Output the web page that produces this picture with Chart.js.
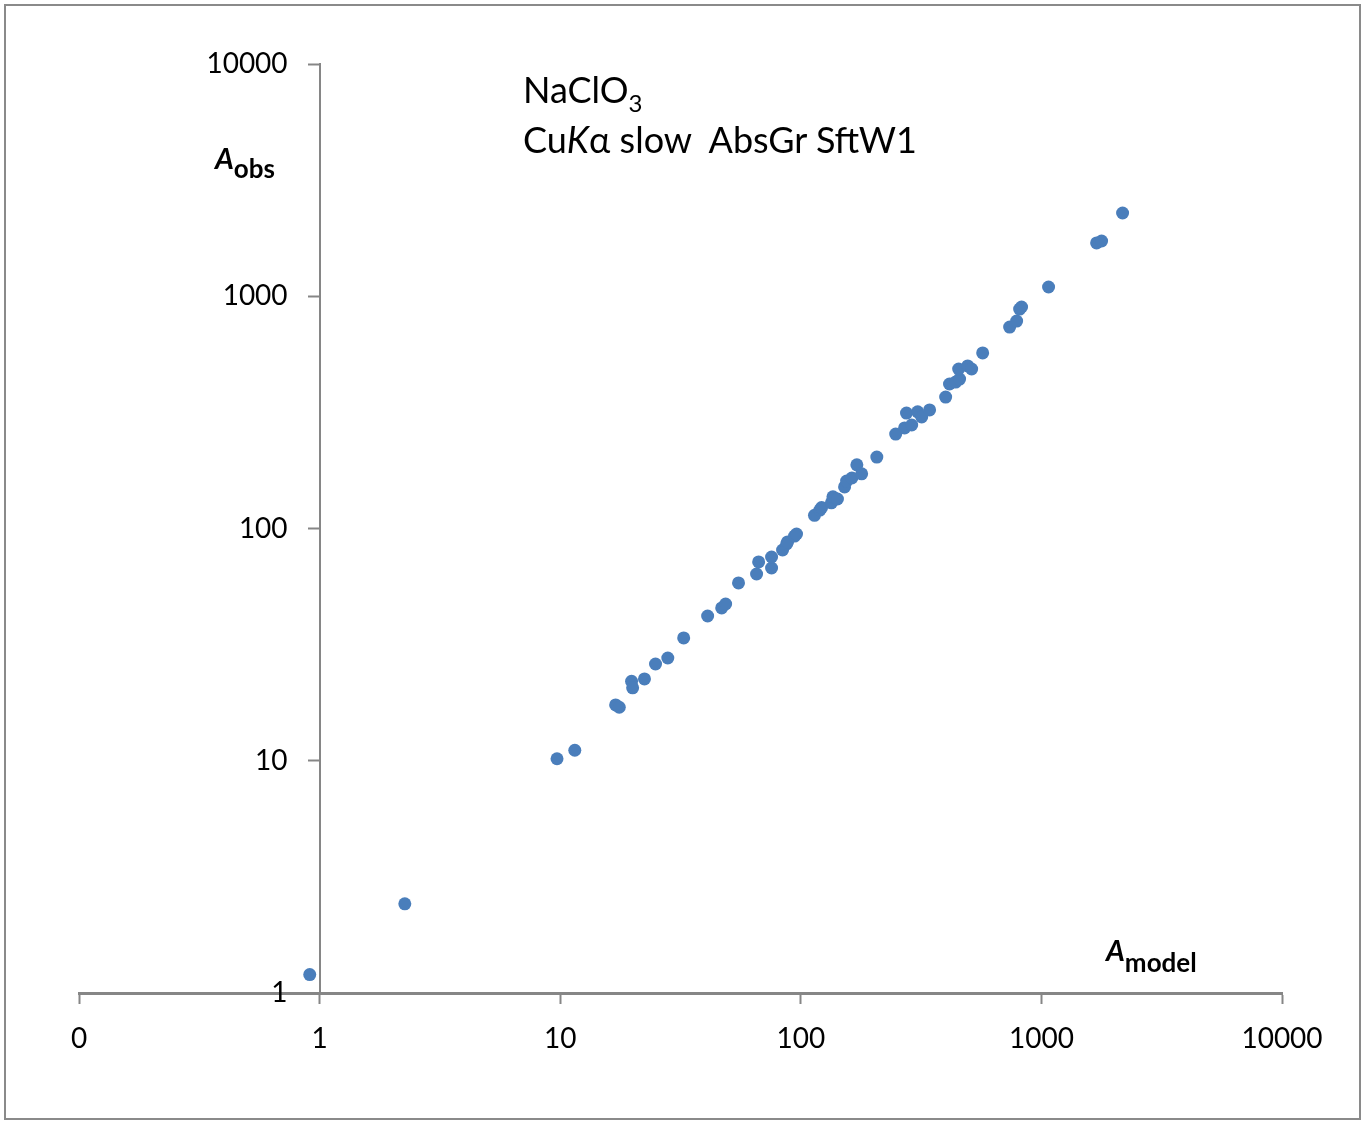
<!DOCTYPE html>
<html>
<head>
<meta charset="utf-8">
<script src="https://cdn.jsdelivr.net/npm/chart.js@4.4.1/dist/chart.umd.min.js"></script>
<style>
  body { margin: 0; background: #fff; }
  #wrap { position: relative; width: 1366px; height: 1121px; }
  #frame { position: absolute; left: 4px; top: 4px; width: 1357px; height: 1116px; border: 2px solid #8a8a8a; box-sizing: border-box; pointer-events: none; }
  .lbl { position: absolute; font-family: Lato, sans-serif; color: #000; white-space: pre; }
  .sub { position: relative; line-height: 0; }
</style>
</head>
<body>
<div id="wrap">
  <canvas id="chart"></canvas>
  <div id="frame"></div>
  <div class="lbl" style="left:523px; top:64px; font-size:36px; line-height:50px;">NaClO<span class="sub" style="font-size:24px; top:9px;">3</span><br>Cu<i>K</i>α slow  AbsGr SftW1</div>
  <div class="lbl" style="left:215px; top:141px; font-size:29px; line-height:34px; font-weight:bold;"><i>A</i><span class="sub" style="font-size:26px; top:9px;">obs</span></div>
  <div class="lbl" style="left:1106px; top:933px; font-size:29px; line-height:34px; font-weight:bold;"><i>A</i><span class="sub" style="font-size:26px; top:11px;">model</span></div>
</div>
<script>
// tick positions and labels (Excel shows 0.1 as "0")
const xTicks = [0.1, 1, 10, 100, 1000, 10000];
const xTickLabels = ['0', '1', '10', '100', '1000', '10000'];
const yTicks = [1, 10, 100, 1000, 10000];
const yTickLabels = ['1', '10', '100', '1000', '10000'];

// A_model vs A_obs
const aModel = [0.91, 2.26, 9.7, 11.5, 17.0, 17.6, 19.8, 20.0, 22.4, 24.9,
    28.0, 32.6, 41.0, 46.9, 48.7, 55.1, 65.5, 66.8, 75.6, 75.6,
    84.0, 87.3, 88.1, 94.2, 96.0, 114, 120, 122, 134, 136,
    142, 152, 155, 163, 171, 179, 207, 248, 270, 289,
    275, 306, 318, 343, 400, 415, 440, 457, 453, 494,
    513, 570, 738, 789, 812, 827, 1071, 1696, 1779, 2175];
const aObs = [1.20, 2.42, 10.2, 11.1, 17.4, 17.0, 22.0, 20.6, 22.5, 26.1,
    27.7, 33.8, 42.0, 45.5, 47.3, 58.3, 63.7, 71.8, 67.6, 75.4,
    80.8, 85.8, 87.5, 92.8, 94.7, 114, 120, 123, 129, 137,
    134, 151, 160, 165, 188, 172, 203, 255, 271, 279,
    314, 318, 302, 324, 368, 419, 427, 440, 486, 501,
    486, 570, 737, 782, 881, 899, 1096, 1696, 1729, 2283];

const axisColor = '#868686';
const tickFont = { family: 'Lato', size: 28 };

// the y axis sits at x = 1, where Chart.js puts its labels right on the line;
// move them left so they clear the tick marks
const yLabelGap = 32;
const yLabelShift = {
    id: 'yLabelShift',
    beforeDraw(chart) {
        chart.scales.y.getLabelItems().forEach(item => {
            if (!item.shifted) {
                item.options.translation[0] -= yLabelGap;
                item.shifted = true;
            }
        });
    }
};

const canvas = document.getElementById('chart');
canvas.width = 1366;
canvas.height = 1121;

new Chart(canvas, {
    type: 'scatter',
    data: {
        datasets: [{
            data: aModel.map((x, i) => ({ x: x, y: aObs[i] })),
            backgroundColor: '#4a7ebb',
            borderWidth: 0,
            pointRadius: 6.5,
            pointHoverRadius: 6.5
        }]
    },
    options: {
        responsive: false,
        animation: false,
        layout: { padding: { left: 79, right: 84, top: 64, bottom: 68 } },
        plugins: {
            legend: { display: false },
            tooltip: { enabled: false }
        },
        scales: {
            x: {
                type: 'logarithmic',
                position: 'bottom',
                min: 0.1,
                max: 10000,
                afterBuildTicks: s => { s.ticks = xTicks.map(v => ({ value: v })); },
                afterFit: s => { s.height = 60; },
                ticks: {
                    callback: (v, i) => xTickLabels[i],
                    font: tickFont,
                    color: '#000',
                    padding: 18,
                    maxRotation: 0,
                    autoSkip: false
                },
                grid: { drawOnChartArea: false, tickLength: 11, tickColor: axisColor, tickWidth: 2 },
                border: { color: axisColor, width: 3 }
            },
            y: {
                type: 'logarithmic',
                position: { x: 1 },
                min: 1,
                max: 10000,
                afterBuildTicks: s => { s.ticks = yTicks.map(v => ({ value: v })); },
                ticks: {
                    callback: (v, i) => yTickLabels[i],
                    font: tickFont,
                    color: '#000',
                    autoSkip: false
                },
                grid: { drawOnChartArea: false, tickLength: 11, tickColor: axisColor, tickWidth: 2 },
                border: { color: axisColor, width: 2 }
            }
        }
    },
    plugins: [yLabelShift]
});
</script>
</body>
</html>
